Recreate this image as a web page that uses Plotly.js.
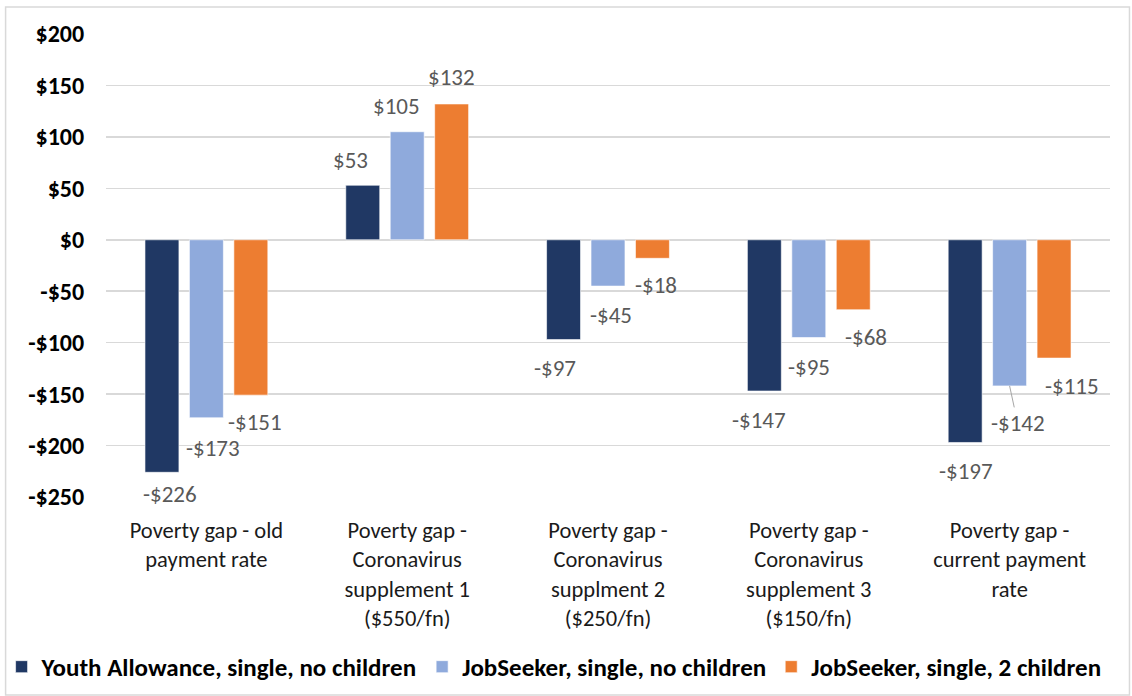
<!DOCTYPE html>
<html><head><meta charset="utf-8">
<script src="https://cdn.plot.ly/plotly-3.0.1.min.js"></script>
<style>body{margin:0;background:#fff}#chart{width:1132px;height:696px}</style>
</head><body><div id="chart"></div>
<script>
const categories = [
  "Poverty gap - old<br>payment rate",
  "Poverty gap -<br>Coronavirus<br>supplement 1<br>($550/fn)",
  "Poverty gap -<br>Coronavirus<br>supplment 2<br>($250/fn)",
  "Poverty gap -<br>Coronavirus<br>supplement 3<br>($150/fn)",
  "Poverty gap -<br>current payment<br>rate"
];
const seriesNames = ["Youth Allowance, single, no children","JobSeeker, single, no children","JobSeeker, single, 2 children"];
const youthAllowance = [-226, 53, -97, -147, -197];
const jobSeekerNoKids = [-173, 105, -45, -95, -142];
const jobSeeker2Kids = [-151, 132, -18, -68, -115];
const yTickVals = [-250,-200,-150,-100,-50,0,50,100,150,200];
const yTickText = ["-$250","-$200","-$150","-$100","-$50","$0","$50","$100","$150","$200"];
const colors = ["#203864","#8FAADC","#ED7D31"];

const FONT = "Carlito, Lato, 'Liberation Sans', sans-serif";
const allSeries = [youthAllowance, jobSeekerNoKids, jobSeeker2Kids];
const traces = allSeries.map((vals,i)=>({
  type:"bar", name:seriesNames[i], x:categories, y:vals,
  marker:{color:colors[i], line:{color:"rgba(255,255,255,0.6)", width:1}},
  hoverinfo:"skip"
}));

function fmt(v){return (v<0?"-$":"$")+Math.abs(v);}
const nudgeX = [[8,-12,-9,-5,1],[7,-11,3,0,8],[4,0,3,13,18]];
const nudgeY = [[-22,25,-28,-29,-29],[-30,26,-29,-29,-37],[-27,27,-27,-27,-28]];
const slot = 44.5;
const annotations = [];
allSeries.forEach((vals,i)=>{
  vals.forEach((v,j)=>{
    const leader = (i===1 && j===4);
    annotations.push({
      x:categories[j], y:v, xref:"x", yref:"y",
      text:fmt(v), showarrow:leader,
      xshift: leader ? (i-1)*slot : (i-1)*slot + nudgeX[i][j],
      yshift: leader ? 0 : nudgeY[i][j],
      ax: nudgeX[i][j], ay: -nudgeY[i][j], axref:"pixel", ayref:"pixel",
      arrowhead:0, arrowwidth:1, arrowcolor:"#A6A6A6", standoff:0, startstandoff:0,
      font:{family:FONT, size:23, color:"#595959"}
    });
  });
});

const layout = {
  width:1132, height:696,
  margin:{l:105.5, r:21.5, t:34, b:199, autoexpand:false},
  paper_bgcolor:"#fff", plot_bgcolor:"#fff",
  barmode:"group", bargap:0.336, bargroupgap:0.236,
  showlegend:true,
  legend:{orientation:"h", x:-0.104, xanchor:"left", y:-0.367, yanchor:"middle",
    bgcolor:"rgba(0,0,0,0)",
    font:{family:FONT, size:25, color:"#000", weight:"bold"}, traceorder:"normal",
    itemwidth:30},
  xaxis:{automargin:false, tickfont:{family:FONT, size:22.5, color:"#1a1a1a"}, showgrid:false, showline:false,
    ticks:"outside", ticklen:13, tickcolor:"rgba(0,0,0,0)", fixedrange:true},
  yaxis:{automargin:false, range:[-250,200], tickvals:yTickVals, ticktext:yTickText,
    tickfont:{family:FONT, size:24, color:"#000", weight:"bold"},
    gridcolor:"#D9D9D9", gridwidth:1.5, zeroline:true, zerolinecolor:"#D9D9D9", zerolinewidth:1.5,
    showline:false, ticks:"outside", ticklen:16, tickcolor:"rgba(0,0,0,0)", fixedrange:true},
  annotations:annotations,
  shapes:[{type:"rect", xref:"paper", yref:"paper", x0:-0.1, x1:1.0194, y0:-0.4276, y1:1.0583,
    line:{color:"#D9D9D9", width:1.5}, fillcolor:"rgba(0,0,0,0)", layer:"below"}]
};
Plotly.newPlot("chart", traces, layout, {displayModeBar:false, staticPlot:true});
</script></body></html>
